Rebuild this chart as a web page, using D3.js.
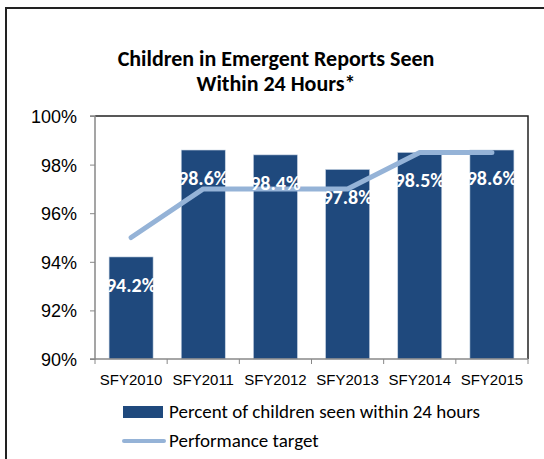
<!DOCTYPE html>
<html>
<head>
    <meta charset="utf-8">
    <title>Emergent Reports</title>
    <script src="https://d3js.org/d3.v7.min.js"></script>
    <style>
        body { margin: 0; background: #fff; }
    </style>
</head>
<body>
<div id="chart"></div>
<script type="text/javascript">

    // dados do gráfico
    const years = ["SFY2010", "SFY2011", "SFY2012", "SFY2013", "SFY2014", "SFY2015"];
    const seen = [94.2, 98.6, 98.4, 97.8, 98.5, 98.6];
    const target = [95, 97, 97, 97, 98.5, 98.5];
    const yTicks = [90, 92, 94, 96, 98, 100];
    const titleLines = ["Children in Emergent Reports Seen", "Within 24 Hours*"];
    const legendNames = ["Percent of children seen within 24 hours", "Performance target"];

    const W = 544, H = 459;
    const margin = {top: 116, right: 16, bottom: 100, left: 95};
    const w = W - margin.left - margin.right;
    const h = H - margin.top - margin.bottom;

    const barColor = "#1f497d";
    const lineColor = "#95b3d7";
    const calibri = "Carlito, Lato, sans-serif";
    const arial = "'Liberation Sans', Arial, sans-serif";

    const svg = d3.select("#chart")
        .append("svg")
            .attr("width", W)
            .attr("height", H);

    // moldura externa
    svg.append("rect")
        .attr("x", 6).attr("y", 8)
        .attr("width", W + 10).attr("height", H + 10)
        .attr("fill", "none")
        .attr("stroke", "#222")
        .attr("stroke-width", 2);

    // título
    svg.append("text")
        .attr("text-anchor", "middle")
        .attr("font-family", calibri)
        .attr("font-weight", "bold")
        .attr("font-size", "22px")
        .attr("fill", "#000")
        .selectAll("tspan")
        .data(titleLines)
        .enter()
        .append("tspan")
            .attr("x", 276)
            .attr("y", (d, i) => 66 + i * 25)
            .text(d => d);

    const g = svg.append("g")
        .attr("transform", "translate(" + margin.left + "," + margin.top + ")");

    const xScale = d3.scaleBand()
        .domain(years)
        .range([0, w])
        .paddingInner(0.39)
        .paddingOuter(0.195);

    const yScale = d3.scaleLinear()
        .domain([90, 100])
        .range([h, 0]);

    // borda da área de plotagem (topo e direita)
    g.append("path")
        .attr("d", "M0,0H" + w + "V" + h)
        .attr("fill", "none")
        .attr("stroke", "#222")
        .attr("stroke-width", 1.5);

    // barras
    g.selectAll("rect.bar")
        .data(seen)
        .enter()
        .append("rect")
        .attr("class", "bar")
        .attr("x", (d, i) => xScale(years[i]))
        .attr("y", d => yScale(d))
        .attr("width", xScale.bandwidth())
        .attr("height", d => h - yScale(d))
        .attr("fill", barColor)
        .attr("stroke", "#c6d3e3")
        .attr("stroke-width", 0.6);

    // linha da meta
    const line = d3.line()
        .x((d, i) => xScale(years[i]) + xScale.bandwidth() / 2)
        .y(d => yScale(d));

    g.append("path")
        .datum(target)
        .attr("d", line)
        .attr("fill", "none")
        .attr("stroke", lineColor)
        .attr("stroke-width", 5)
        .attr("stroke-linecap", "round")
        .attr("stroke-linejoin", "round");

    // rótulos das barras
    g.selectAll("text.lbl")
        .data(seen)
        .enter()
        .append("text")
        .attr("class", "lbl")
        .attr("x", (d, i) => xScale(years[i]) + xScale.bandwidth() / 2)
        .attr("y", d => yScale(d) + 35)
        .attr("text-anchor", "middle")
        .attr("font-family", calibri)
        .attr("font-weight", "bold")
        .attr("font-size", "20px")
        .attr("fill", "#fff")
        .text(d => d.toFixed(1) + "%");

    // eixos
    const yAxis = d3.axisLeft(yScale)
        .tickValues(yTicks)
        .tickSize(5)
        .tickPadding(13)
        .tickFormat(d => d + "%");

    const xAxis = d3.axisBottom(xScale)
        .tickSize(0)
        .tickPadding(15);

    const ya = g.append("g").call(yAxis);
    ya.selectAll("text")
        .attr("font-family", arial)
        .attr("font-size", "18px")
        .attr("fill", "#000")
        .attr("dy", "0.36em");

    const xa = g.append("g")
        .attr("transform", "translate(0," + h + ")")
        .call(xAxis);
    xa.selectAll("text")
        .attr("font-family", arial)
        .attr("font-size", "15px")
        .attr("fill", "#000");

    // marcas entre categorias
    xa.selectAll("line.sep")
        .data(d3.range(years.length + 1))
        .enter()
        .append("line")
        .attr("class", "sep")
        .attr("x1", i => i * xScale.step())
        .attr("x2", i => i * xScale.step())
        .attr("y1", 0).attr("y2", 5)
        .attr("stroke", "#888");

    g.selectAll(".domain").attr("stroke", "#888").attr("stroke-width", 1.5);
    ya.selectAll(".tick line").attr("stroke", "#888");
    ya.select(".domain").attr("d", "M-5,0H0V" + h + "H-5");
    xa.select(".domain").attr("d", "M0,0H" + w);

    // legenda
    const leg = svg.append("g").attr("transform", "translate(123,0)");

    leg.append("rect")
        .attr("x", 0).attr("y", 406)
        .attr("width", 40).attr("height", 12)
        .attr("fill", barColor);

    leg.append("line")
        .attr("x1", 1).attr("x2", 41)
        .attr("y1", 441).attr("y2", 441)
        .attr("stroke", lineColor)
        .attr("stroke-width", 4)
        .attr("stroke-linecap", "round");

    leg.selectAll("text")
        .data(legendNames)
        .enter()
        .append("text")
        .attr("x", 46)
        .attr("y", (d, i) => 418 + i * 29)
        .attr("font-family", calibri)
        .attr("font-size", "19px")
        .attr("fill", "#000")
        .text(d => d);

</script>
</body>
</html>
